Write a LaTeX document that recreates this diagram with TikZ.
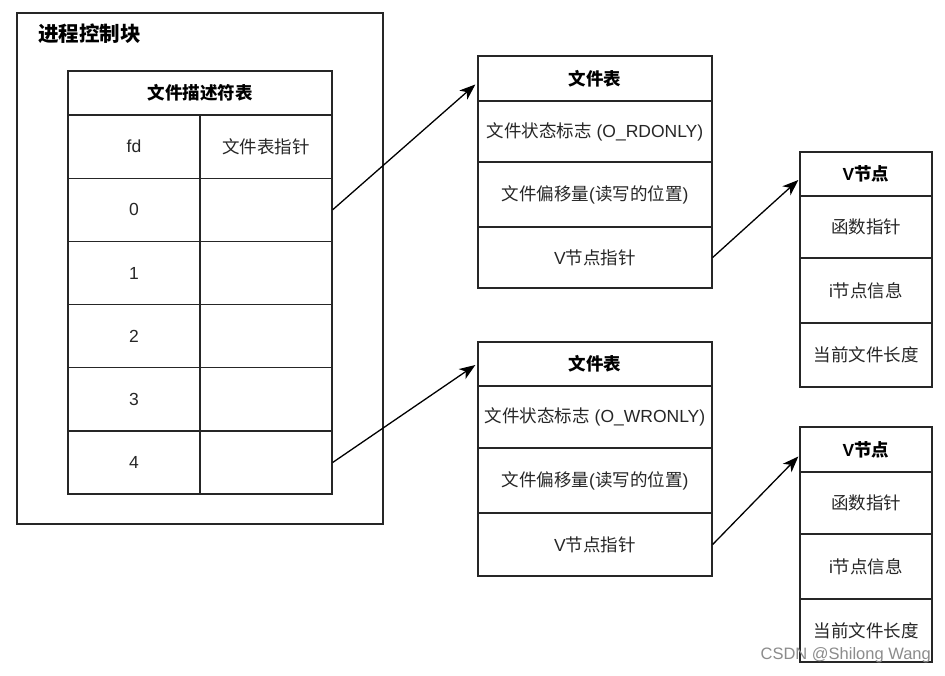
\documentclass[tikz,border=0pt]{standalone}
\usepackage{fontspec}
\setmainfont{Liberation Sans}
\newfontfamily\cjk{Noto Sans CJK SC}
\newcommand{\zh}[1]{{\cjk #1}}
\usetikzlibrary{arrows.meta}
\begin{document}
\begin{tikzpicture}[x=1pt,y=-1pt,
  cell/.style={draw=black!85, line width=1.3pt, inner sep=0pt,
    font=\fontsize{17.5}{20}\selectfont, text=black!85},
  hdr/.style={cell, font=\fontsize{17.5}{20}\selectfont\bfseries, text=black},
  ptr/.style={-{Stealth[length=16pt,width=12pt,inset=4.5pt]}, line width=1.3pt, black},
  tw/.style={minimum width=264pt},
  cw/.style={minimum width=132pt},
  fw/.style={minimum width=234pt}]
\useasboundingbox (0,0) rectangle (945,675);
\fill[white] (0,0) rectangle (945,675);

% process control block
\node[draw=black!85, line width=1.3pt, minimum width=366pt, minimum height=511pt, inner sep=0pt] (pcb) at (200,268.5) {};
\node[anchor=west, inner sep=0pt, font=\fontsize{20.5}{24}\selectfont\bfseries] (pcbt) at (38,34) {\zh{进程控制块}};

% file descriptor table
\node[hdr, tw, minimum height=44pt] (fdt) at (200,93) {\zh{文件描述符表}};
\node[cell, cw, minimum height=63.2pt] (fdh) at (134,146.6) {fd};
\node[cell, cw, minimum height=63.2pt] (fph) at (266,146.6) {\zh{文件表指针}};
\node[cell, cw, minimum height=63.2pt] (r0a) at (134,209.8) {0};
\node[cell, cw, minimum height=63.2pt] (r0b) at (266,209.8) {};
\node[cell, cw, minimum height=63.2pt] (r1a) at (134,273) {1};
\node[cell, cw, minimum height=63.2pt] (r1b) at (266,273) {};
\node[cell, cw, minimum height=63.2pt] (r2a) at (134,336.2) {2};
\node[cell, cw, minimum height=63.2pt] (r2b) at (266,336.2) {};
\node[cell, cw, minimum height=63.2pt] (r3a) at (134,399.4) {3};
\node[cell, cw, minimum height=63.2pt] (r3b) at (266,399.4) {};
\node[cell, cw, minimum height=63pt] (r4a) at (134,462.5) {4};
\node[cell, cw, minimum height=63pt] (r4b) at (266,462.5) {};

% file table 1
\node[hdr, fw, minimum height=45pt] (f1h) at (595,78.5) {\zh{文件表}};
\node[cell, fw, minimum height=61pt] (f1a) at (595,131.5) {\zh{文件状态标志} (O\_RDONLY)};
\node[cell, fw, minimum height=65pt] (f1b) at (595,194.5) {\zh{文件偏移量}(\zh{读写的位置})};
\node[cell, fw, minimum height=61pt] (f1c) at (595,257.5) {V\zh{节点指针}};

% file table 2
\node[hdr, fw, minimum height=44pt] (f2h) at (595,364) {\zh{文件表}};
\node[cell, fw, minimum height=62pt] (f2a) at (595,417) {\zh{文件状态标志} (O\_WRONLY)};
\node[cell, fw, minimum height=65pt] (f2b) at (595,480.5) {\zh{文件偏移量}(\zh{读写的位置})};
\node[cell, fw, minimum height=63pt] (f2c) at (595,544.5) {V\zh{节点指针}};

% v-node 1
\node[hdr, cw, minimum height=44pt] (v1h) at (866,174) {V\zh{节点}};
\node[cell, cw, minimum height=62pt] (v1a) at (866,227) {\zh{函数指针}};
\node[cell, cw, minimum height=65pt] (v1b) at (866,290.5) {i\zh{节点信息}};
\node[cell, cw, minimum height=64pt] (v1c) at (866,355) {\zh{当前文件长度}};

% v-node 2
\node[hdr, cw, minimum height=45pt] (v2h) at (866,449.5) {V\zh{节点}};
\node[cell, cw, minimum height=62pt] (v2a) at (866,503) {\zh{函数指针}};
\node[cell, cw, minimum height=65pt] (v2b) at (866,566.5) {i\zh{节点信息}};
\node[cell, cw, minimum height=63pt] (v2c) at (866,630.5) {\zh{当前文件长度}};

% pointers
\draw[ptr] (r0b.east) -- ([xshift=-2pt,yshift=-6pt]f1h.west);
\draw[ptr] (r4b.east) -- ([xshift=-2pt,yshift=-1pt]f2h.west);
\draw[ptr] (f1c.east) -- ([xshift=-1pt,yshift=-6pt]v1h.west);
\draw[ptr] (f2c.east) -- ([xshift=-1pt,yshift=-7pt]v2h.west);

% watermark
\node[anchor=east, inner sep=0pt, text=black!45, font=\fontsize{16.5}{19}\selectfont] (wm) at (931,655) {CSDN @Shilong Wang};
\end{tikzpicture}
\end{document}
